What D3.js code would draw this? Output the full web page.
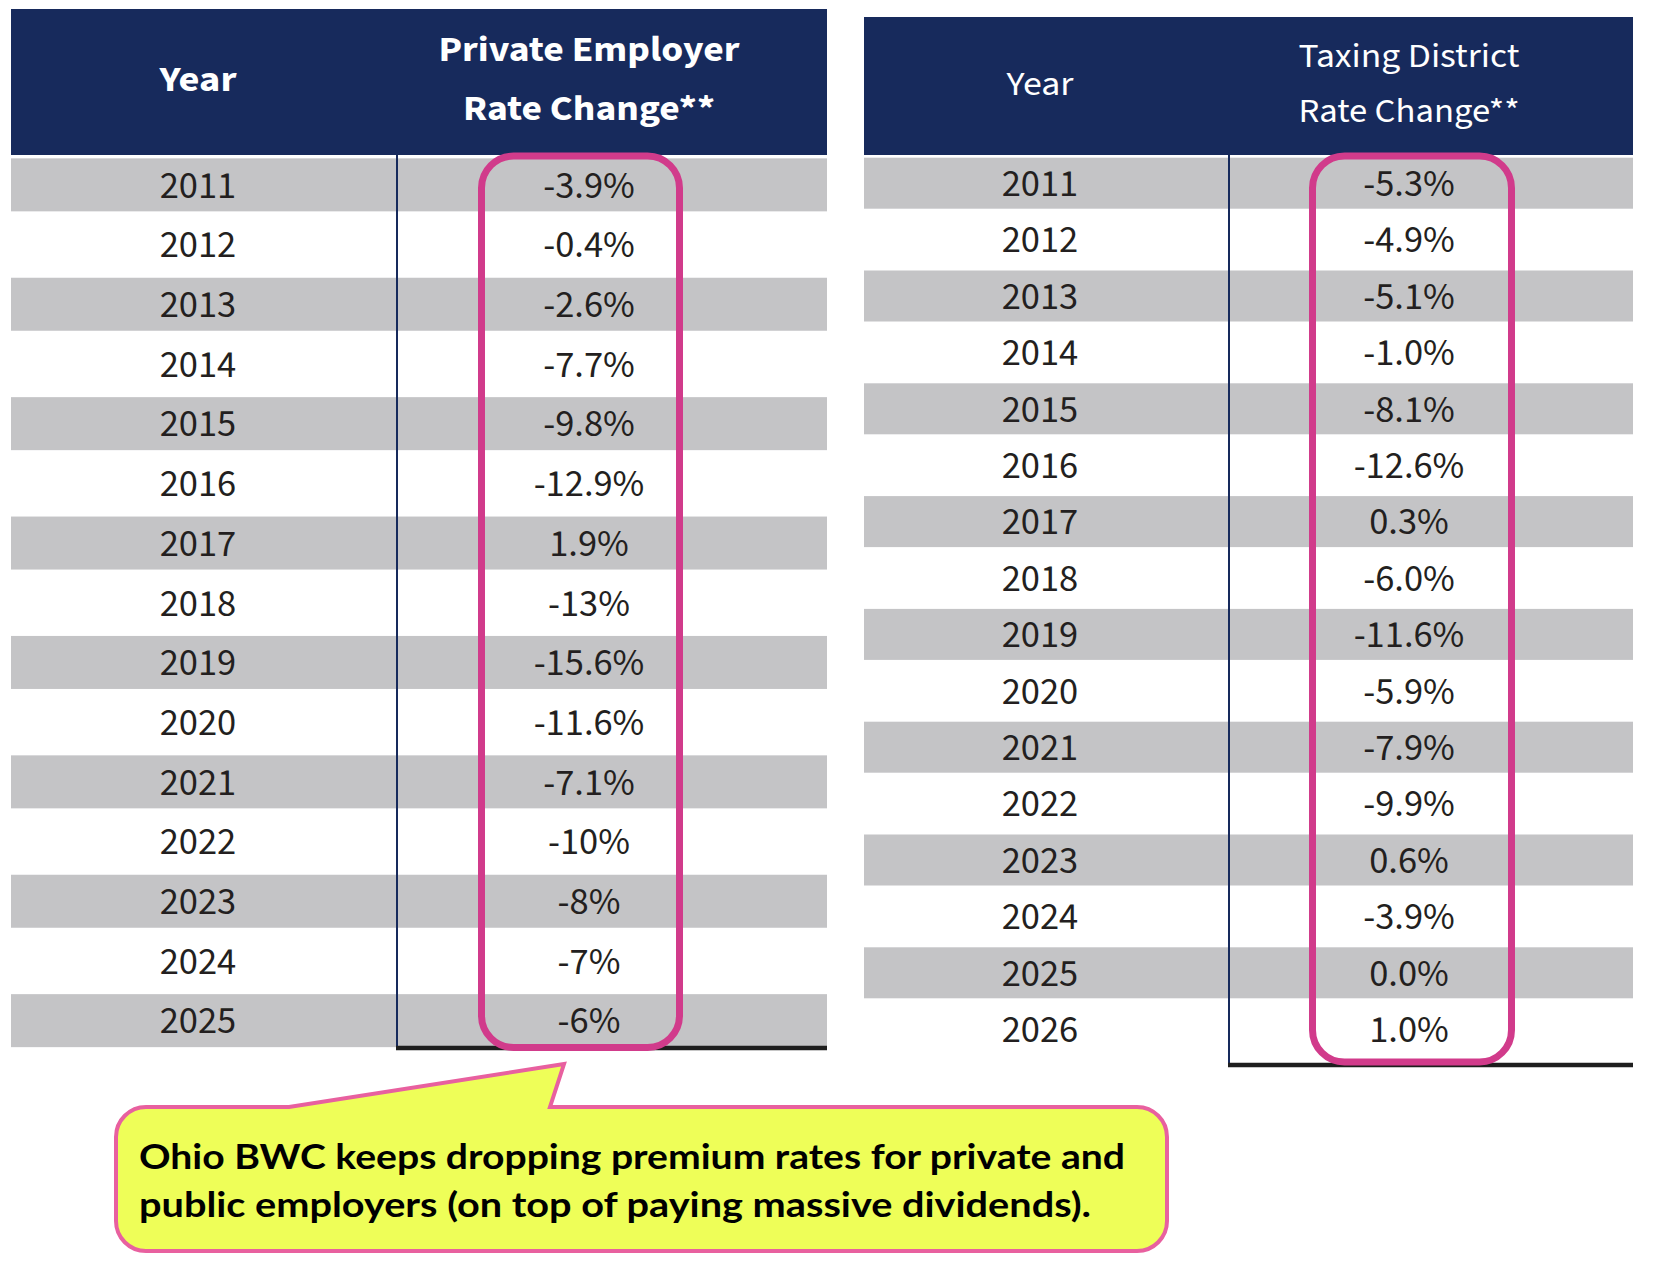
<!DOCTYPE html>
<html>
<head>
<meta charset="utf-8">
<script src="https://cdn.jsdelivr.net/npm/d3@7"></script>
<style>
  body { margin: 0; background: #fff; }
  text { font-family: "Source Sans Pro", "Source Sans 3", Lato, "Noto Sans", sans-serif; }
</style>
</head>
<body>
<div id="chart"></div>
<script>
// ---- data ----
const privateYears = [2011, 2012, 2013, 2014, 2015, 2016, 2017, 2018, 2019, 2020, 2021, 2022, 2023, 2024, 2025];
const privateRates = ['-3.9%', '-0.4%', '-2.6%', '-7.7%', '-9.8%', '-12.9%', '1.9%', '-13%',
                      '-15.6%', '-11.6%', '-7.1%', '-10%', '-8%', '-7%', '-6%'];
const privateTitle = ['Private Employer', 'Rate Change**'];

const districtYears = [2011, 2012, 2013, 2014, 2015, 2016, 2017, 2018, 2019, 2020, 2021, 2022, 2023, 2024, 2025, 2026];
const districtRates = ['-5.3%', '-4.9%', '-5.1%', '-1.0%', '-8.1%', '-12.6%', '0.3%', '-6.0%',
                       '-11.6%', '-5.9%', '-7.9%', '-9.9%', '0.6%', '-3.9%', '0.0%', '1.0%'];
const districtTitle = ['Taxing District', 'Rate Change**'];

const calloutLines = ['Ohio BWC keeps dropping premium rates for private and',
                      'public employers (on top of paying massive dividends).'];

const NAVY = '#172a5c', GRAY = '#c4c4c6', PINK = '#d13b8b', INK = '#231f20';

const svg = d3.select('#chart').append('svg')
    .attr('width', 1658)
    .attr('height', 1274);

function fitTo(sel, w) {
    sel.attr('textLength', w).attr('lengthAdjust', 'spacingAndGlyphs');
}

function rateTable(years, rates, title, o) {
    const y = d3.scaleBand()
        .domain(years)
        .range([o.headBottom, o.headBottom + o.pitch * years.length]);
    const mid = d => y(d) + y.bandwidth() / 2;
    const bottom = o.rule;
    const g = svg.append('g');

    g.append('rect')
        .attr('x', o.left).attr('y', o.headTop)
        .attr('width', o.right - o.left).attr('height', o.headBottom - o.headTop)
        .attr('fill', NAVY);

    g.selectAll('rect.band')
        .data(years.filter((d, i) => i % 2 === 0))
        .join('rect')
        .attr('class', 'band')
        .attr('x', o.left)
        .attr('width', o.right - o.left)
        .attr('y', d => Math.max(o.headBottom, mid(d) - o.bandH / 2))
        .attr('height', d => mid(d) + o.bandH / 2 - Math.max(o.headBottom, mid(d) - o.bandH / 2))
        .attr('fill', GRAY);

    // column divider and bottom rule
    g.append('line')
        .attr('x1', o.split).attr('x2', o.split)
        .attr('y1', o.headBottom).attr('y2', bottom)
        .attr('stroke', NAVY).attr('stroke-width', 2);
    g.append('line')
        .attr('x1', o.split - 1).attr('x2', o.right)
        .attr('y1', bottom).attr('y2', bottom)
        .attr('stroke', '#1e1e1e').attr('stroke-width', 4.5);

    // header
    const weight = o.bold ? 700 : 400;
    g.append('text')
        .attr('x', o.yearX).attr('y', o.yearHeadY)
        .attr('text-anchor', 'middle')
        .attr('fill', '#fff').attr('font-weight', weight).attr('font-size', o.headSize)
        .text('Year')
        .call(fitTo, o.yearHeadW);
    g.selectAll('text.head')
        .data(title)
        .join('text')
        .attr('class', 'head')
        .attr('x', o.rateX)
        .attr('y', (d, i) => o.titleY[i])
        .attr('text-anchor', 'middle')
        .attr('fill', '#fff').attr('font-weight', weight).attr('font-size', o.headSize)
        .text(d => d)
        .each(function(d, i) { fitTo(d3.select(this), o.titleW[i]); });

    // body
    g.selectAll('text.year')
        .data(years)
        .join('text')
        .attr('class', 'year')
        .attr('x', o.yearX)
        .attr('y', d => mid(d) + 12.8)
        .attr('text-anchor', 'middle')
        .attr('fill', INK).attr('font-size', 38.5)
        .text(d => d);
    g.selectAll('text.rate')
        .data(years)
        .join('text')
        .attr('class', 'rate')
        .attr('x', o.rateX)
        .attr('y', d => mid(d) + 12.8)
        .attr('text-anchor', 'middle')
        .attr('fill', INK).attr('font-size', 38.5)
        .text((d, i) => rates[i]);

    // pink highlight round the rate column
    g.append('rect')
        .attr('x', o.box[0]).attr('y', o.box[1])
        .attr('width', o.box[2] - o.box[0]).attr('height', o.box[3] - o.box[1])
        .attr('rx', 32).attr('ry', 32)
        .attr('fill', 'none').attr('stroke', PINK).attr('stroke-width', 7);
}

rateTable(privateYears, privateRates, privateTitle, {
    left: 11, right: 827, headTop: 9, headBottom: 155,
    pitch: 59.7, bandH: 53, split: 397, rule: 1048,
    yearX: 198, rateX: 589,
    bold: true, headSize: 36,
    yearHeadY: 91, yearHeadW: 77,
    titleY: [61, 120], titleW: [301, 252],
    box: [481.5, 156, 679.5, 1047.5]
});

rateTable(districtYears, districtRates, districtTitle, {
    left: 864, right: 1633, headTop: 17, headBottom: 155,
    pitch: 56.4, bandH: 51, split: 1229, rule: 1065,
    yearX: 1040, rateX: 1409,
    bold: false, headSize: 34,
    yearHeadY: 95, yearHeadW: 67,
    titleY: [67, 122], titleW: [221, 221],
    box: [1312.5, 156, 1511.5, 1062]
});

// ---- callout bubble ----
const cb = { x0: 116, x1: 1167, y0: 1107, y1: 1251, r: 30, p0: 289, p1: 550, tip: [564, 1064] };
const p = d3.path();
p.moveTo(cb.x0 + cb.r, cb.y0);
p.lineTo(cb.p0, cb.y0);
p.lineTo(cb.tip[0], cb.tip[1]);
p.lineTo(cb.p1, cb.y0);
p.lineTo(cb.x1 - cb.r, cb.y0);
p.arcTo(cb.x1, cb.y0, cb.x1, cb.y0 + cb.r, cb.r);
p.lineTo(cb.x1, cb.y1 - cb.r);
p.arcTo(cb.x1, cb.y1, cb.x1 - cb.r, cb.y1, cb.r);
p.lineTo(cb.x0 + cb.r, cb.y1);
p.arcTo(cb.x0, cb.y1, cb.x0, cb.y1 - cb.r, cb.r);
p.lineTo(cb.x0, cb.y0 + cb.r);
p.arcTo(cb.x0, cb.y0, cb.x0 + cb.r, cb.y0, cb.r);
p.closePath();

svg.append('path')
    .attr('d', p.toString())
    .attr('fill', '#eefe58')
    .attr('stroke', '#e8609f')
    .attr('stroke-width', 4)
    .attr('stroke-linejoin', 'miter');

const lineW = [986, 952];
svg.selectAll('text.note')
    .data(calloutLines)
    .join('text')
    .attr('class', 'note')
    .attr('x', 139)
    .attr('y', (d, i) => 1169 + i * 48)
    .attr('fill', '#000')
    .attr('font-weight', 700)
    .attr('font-size', 34)
    .style('font-family', 'Lato, Inter, sans-serif')
    .text(d => d)
    .each(function(d, i) { fitTo(d3.select(this), lineW[i]); });
</script>
</body>
</html>
